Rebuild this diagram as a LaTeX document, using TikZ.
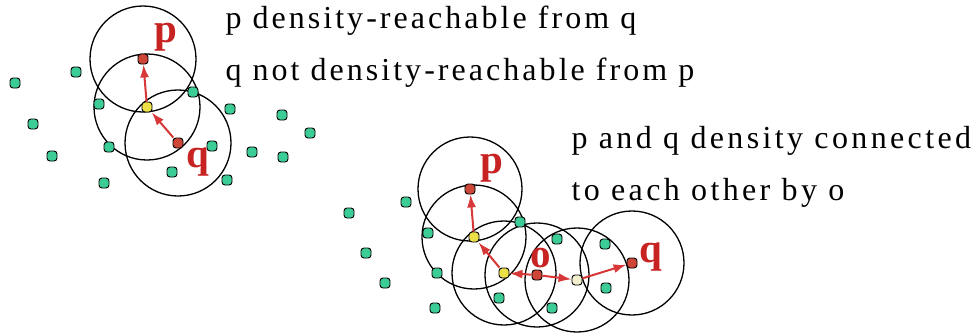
\documentclass[tikz,border=0pt]{standalone}
\usepackage{fontspec}
\setmainfont{Liberation Serif}
\newfontfamily\capfont[LetterSpace=9.5]{Liberation Serif}
\newfontfamily\capfontb[LetterSpace=10.5]{Liberation Serif}
\usetikzlibrary{arrows.meta,backgrounds}

\definecolor{ptgreen}{RGB}{60,205,150}
\definecolor{ptred}{RGB}{205,70,55}
\definecolor{ptyellow}{RGB}{235,225,70}
\definecolor{ptpale}{RGB}{240,238,205}
\definecolor{lblred}{RGB}{200,35,35}
\definecolor{arrred}{RGB}{215,55,55}

\begin{document}
\begin{tikzpicture}[x=1pt, y=-1pt,
  pt/.style={draw=black, line width=0.9pt, rounded corners=3pt, minimum size=10pt, inner sep=0pt, fill=ptgreen},
  core/.style={pt, fill=ptred},
  border/.style={pt, fill=ptyellow},
  ring/.style={draw=black, line width=1.3pt},
  arrow/.style={-{Latex[length=13pt,width=9pt]}, line width=2pt, draw=arrred},
  lbl/.style={anchor=base, text=lblred, font=\fontsize{41}{41}\selectfont\bfseries},
  caption/.style={anchor=base west, font=\fontsize{32}{38}\selectfont\capfont},
  captionb/.style={anchor=base west, font=\fontsize{32}{38}\selectfont\capfontb}]
\useasboundingbox (0,0) rectangle (977,333);

% left group: p reachable from q
\node[core] (p1) at (143,59) {};
\node[border] (m1) at (147,107) {};
\node[core] (q1) at (178,143) {};
\foreach \x/\y in {15/83, 76/72, 33/124, 52/156, 99/104, 109/147, 104/183,
  193/92, 230/109, 172/172, 212/146, 227/180, 282/115, 310/133, 252/152, 283/157}
  \node[pt] at (\x,\y) {};
\begin{scope}[on background layer]
  \foreach \c in {p1,m1,q1}
    \draw[ring] (\c) circle[radius=53pt];
\end{scope}
\draw[arrow] (m1) -- (p1);
\draw[arrow] (q1) -- (m1);
\node[lbl] (lp1) at (166,42) {p};
\node[lbl] (lq1) at (198,167) {q};

% right group: p and q connected by o
\node[core] (p2) at (470,189) {};
\node[border] (a2) at (474,237) {};
\node[border] (b2) at (504,273) {};
\node[core] (o2) at (537,275) {};
\node[pt, fill=ptpale] (c2) at (577,280) {};
\node[core] (q2) at (632,263) {};
\foreach \x/\y in {349/213, 406/202, 366/253, 385/283, 428/233, 437/273, 435/308,
  520/222, 557/239, 499/298, 552/308, 605/244, 606/288}
  \node[pt] at (\x,\y) {};
\begin{scope}[on background layer]
  \foreach \c in {p2,a2,b2,o2,c2,q2}
    \draw[ring] (\c) circle[radius=52pt];
\end{scope}
\draw[arrow] (a2) -- (p2);
\draw[arrow] (b2) -- (a2);
\draw[arrow] (o2) -- (b2);
\draw[arrow] (o2) -- (c2);
\draw[arrow] (c2) -- (q2);
\node[lbl] (lp2) at (492,173) {p};
\node[lbl] (lo2) at (541,267) {o};
\node[lbl] (lq2) at (651,262) {q};

% captions
\node[caption] (t1) at (222,28) {p density-reachable from q};
\node[caption] (t2) at (222,80) {q not density-reachable from p};
\node[captionb] (t3) at (568,148) {p and q density connected};
\node[captionb] (t4) at (568,200) {to each other by o};
\end{tikzpicture}
\end{document}
